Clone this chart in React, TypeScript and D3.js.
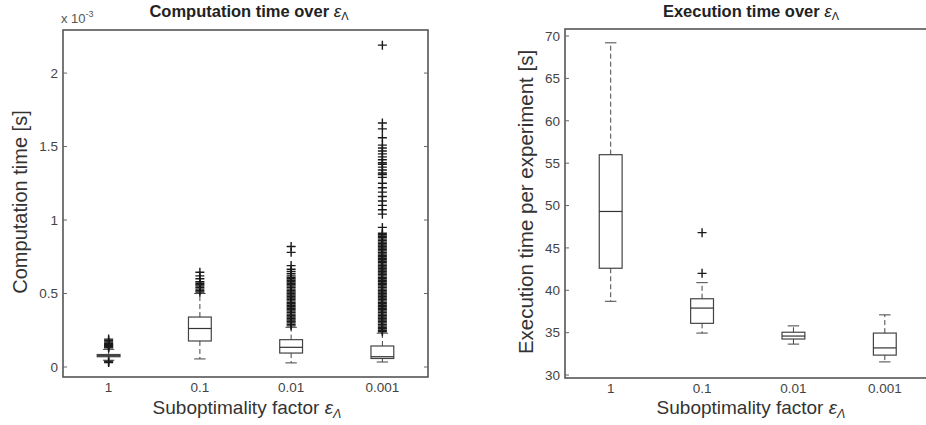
import React, { useEffect, useRef } from "react";
import * as d3 from "d3";

// categories on x (suboptimality factor)
const categories = ["1", "0.1", "0.01", "0.001"];

// computation time, values in 1e-3 s
const compQ1 = [0.07, 0.177, 0.095, 0.058];
const compMedian = [0.077, 0.262, 0.134, 0.07];
const compQ3 = [0.085, 0.34, 0.186, 0.143];
const compLow = [0.046, 0.055, 0.028, 0.034];
const compHigh = [0.12, 0.5, 0.27, 0.23];
const compOutliers = [
  [0.03, 0.035, 0.04, 0.13, 0.135, 0.14, 0.145, 0.15, 0.155, 0.16, 0.17, 0.18, 0.19],
  [0.51, 0.52, 0.53, 0.54, 0.55, 0.56, 0.57, 0.58, 0.6, 0.62, 0.645],
  [
    0.28, 0.29, 0.3, 0.31, 0.32, 0.33, 0.34, 0.35, 0.36, 0.37, 0.38, 0.39, 0.4, 0.41,
    0.42, 0.43, 0.44, 0.45, 0.46, 0.47, 0.48, 0.49, 0.5, 0.51, 0.52, 0.53, 0.54, 0.55,
    0.56, 0.57, 0.58, 0.59, 0.6, 0.61, 0.62, 0.635, 0.65, 0.665, 0.69, 0.78, 0.82,
  ],
  [
    0.24, 0.25, 0.26, 0.27, 0.28, 0.29, 0.3, 0.31, 0.32, 0.33, 0.34, 0.35, 0.36, 0.37,
    0.38, 0.39, 0.4, 0.41, 0.42, 0.43, 0.44, 0.45, 0.46, 0.47, 0.48, 0.49, 0.5, 0.51,
    0.52, 0.53, 0.54, 0.55, 0.56, 0.57, 0.58, 0.59, 0.6, 0.61, 0.62, 0.63, 0.64, 0.65,
    0.66, 0.67, 0.68, 0.69, 0.7, 0.71, 0.72, 0.73, 0.74, 0.75, 0.76, 0.77, 0.78, 0.79,
    0.8, 0.81, 0.82, 0.83, 0.84, 0.85, 0.86, 0.87, 0.88, 0.89, 0.9, 0.91, 0.95, 1.04,
    1.07, 1.1, 1.13, 1.16, 1.19, 1.22, 1.25, 1.29, 1.31, 1.32, 1.34, 1.36, 1.38, 1.39,
    1.41, 1.43, 1.45, 1.47, 1.49, 1.51, 1.56, 1.62, 1.66, 2.19,
  ],
];
const compTicks = [0, 0.5, 1, 1.5, 2];

// execution time per experiment, s
const execQ1 = [42.6, 36.1, 34.25, 32.35];
const execMedian = [49.3, 37.9, 34.6, 33.2];
const execQ3 = [56, 39, 35.05, 34.95];
const execLow = [38.7, 34.95, 33.65, 31.55];
const execHigh = [69.2, 40.9, 35.8, 37.1];
const execOutliers = [[], [42.0, 46.8], [], []];
const execTicks = [30, 35, 40, 45, 50, 55, 60, 65, 70];

const FONT = "'Liberation Sans', Arial, Helvetica, sans-serif";

function drawPanel(svg, opts) {
  const { left, right, top, bottom, yDomain, ticks, q1, med, q3, lo, hi, out } = opts;
  const x = d3.scaleLinear().domain([0.5, 4.5]).range([left, right]);
  const y = d3.scaleLinear().domain(yDomain).range([bottom, top]);
  const g = svg.append("g");
  const boxW = x(1.25) - x(1);
  const capW = boxW / 2;

  // frame
  g.append("rect")
    .attr("x", left)
    .attr("y", top)
    .attr("width", right - left)
    .attr("height", bottom - top)
    .attr("fill", "#fff")
    .attr("stroke", "#555")
    .attr("stroke-width", 1.6);

  // y ticks (inward, both sides)
  ticks.forEach((t) => {
    g.append("line").attr("x1", left).attr("x2", left + 4).attr("y1", y(t)).attr("y2", y(t)).attr("stroke", "#666");
    g.append("line").attr("x1", right).attr("x2", right - 4).attr("y1", y(t)).attr("y2", y(t)).attr("stroke", "#666");
    g.append("text")
      .attr("x", left - 5)
      .attr("y", y(t))
      .attr("dy", "0.35em")
      .attr("text-anchor", "end")
      .attr("font-family", FONT)
      .attr("font-size", 13.5)
      .attr("fill", "#444")
      .text(d3.format("~g")(t));
  });

  // x tick labels
  categories.forEach((c, i) => {
    g.append("text")
      .attr("x", x(i + 1))
      .attr("y", bottom + 15)
      .attr("text-anchor", "middle")
      .attr("font-family", FONT)
      .attr("font-size", 13.5)
      .attr("fill", "#444")
      .text(c);
  });

  categories.forEach((c, i) => {
    const cx = x(i + 1);
    const stroke = "#444";
    // whiskers
    g.append("line").attr("x1", cx).attr("x2", cx).attr("y1", y(q3[i])).attr("y2", y(hi[i]))
      .attr("stroke", stroke).attr("stroke-dasharray", "5,3");
    g.append("line").attr("x1", cx).attr("x2", cx).attr("y1", y(q1[i])).attr("y2", y(lo[i]))
      .attr("stroke", stroke).attr("stroke-dasharray", "5,3");
    g.append("line").attr("x1", cx - capW / 2).attr("x2", cx + capW / 2).attr("y1", y(hi[i])).attr("y2", y(hi[i]))
      .attr("stroke", stroke);
    g.append("line").attr("x1", cx - capW / 2).attr("x2", cx + capW / 2).attr("y1", y(lo[i])).attr("y2", y(lo[i]))
      .attr("stroke", stroke);
    // box
    g.append("rect")
      .attr("x", cx - boxW / 2)
      .attr("y", y(q3[i]))
      .attr("width", boxW)
      .attr("height", Math.max(1, y(q1[i]) - y(q3[i])))
      .attr("fill", "none")
      .attr("stroke", stroke)
      .attr("stroke-width", 1.2);
    g.append("line").attr("x1", cx - boxW / 2).attr("x2", cx + boxW / 2).attr("y1", y(med[i])).attr("y2", y(med[i]))
      .attr("stroke", "#333").attr("stroke-width", 1.2);
    // outliers
    g.append("g")
      .selectAll("path")
      .data(out[i])
      .join("path")
      .attr("d", (v) => `M${cx - 4.5},${y(v)}h9M${cx},${y(v) - 4.5}v9`)
      .attr("stroke", "#1a1a1a")
      .attr("stroke-width", 1.4);
  });

  return x;
}

function addTitle(svg, cx, yPos, text) {
  const t = svg.append("text")
    .attr("x", cx)
    .attr("y", yPos)
    .attr("text-anchor", "middle")
    .attr("font-family", FONT)
    .attr("font-size", 16.5)
    .attr("font-weight", "bold")
    .attr("fill", "#222");
  t.append("tspan").text(text + " ");
  t.append("tspan").attr("font-weight", "normal").attr("font-style", "italic").attr("font-size", 17).text("ε");
  t.append("tspan").attr("font-weight", "normal").attr("font-size", 11).attr("dy", 3).text("Λ");
}

function addXLabel(svg, cx, yPos) {
  const t = svg.append("text")
    .attr("x", cx)
    .attr("y", yPos)
    .attr("text-anchor", "middle")
    .attr("font-family", FONT)
    .attr("font-size", 19)
    .attr("fill", "#333");
  t.append("tspan").text("Suboptimality factor ");
  t.append("tspan").attr("font-style", "italic").text("ε");
  t.append("tspan").attr("font-size", 12.5).attr("font-style", "italic").attr("dy", 4).text("Λ");
}

function addYLabel(svg, xPos, cy, text, size) {
  svg.append("text")
    .attr("transform", `translate(${xPos},${cy}) rotate(-90)`)
    .attr("text-anchor", "middle")
    .attr("font-family", FONT)
    .attr("font-size", size)
    .attr("fill", "#333")
    .text(text);
}

export default function App() {
  const ref = useRef(null);

  useEffect(() => {
    const width = 926;
    const height = 425;
    d3.select(ref.current).selectAll("*").remove();
    const svg = d3
      .select(ref.current)
      .append("svg")
      .attr("width", width)
      .attr("height", height)
      .style("position", "absolute")
      .style("left", "0px")
      .style("top", "0px")
      .style("background", "#fff");

    // left: computation time
    drawPanel(svg, {
      left: 63, right: 428, top: 30, bottom: 377,
      yDomain: [-0.068, 2.293], ticks: compTicks,
      q1: compQ1, med: compMedian, q3: compQ3, lo: compLow, hi: compHigh, out: compOutliers,
    });
    const exp = svg.append("text")
      .attr("x", 61)
      .attr("y", 23)
      .attr("font-family", FONT)
      .attr("font-size", 13)
      .attr("fill", "#555");
    exp.append("tspan").text("x 10");
    exp.append("tspan").attr("font-size", 9).attr("dy", -6).text("-3");
    addTitle(svg, 249, 17, "Computation time over");
    addXLabel(svg, 247, 414);
    addYLabel(svg, 27, 202, "Computation time [s]", 20);

    // right: execution time
    drawPanel(svg, {
      left: 565, right: 930.5, top: 29, bottom: 378,
      yDomain: [29.65, 70.83], ticks: execTicks,
      q1: execQ1, med: execMedian, q3: execQ3, lo: execLow, hi: execHigh, out: execOutliers,
    });
    addTitle(svg, 751, 17, "Execution time over");
    addXLabel(svg, 751, 414);
    addYLabel(svg, 533, 202, "Execution time per experiment [s]", 20.5);
  }, []);

  return <div ref={ref} />;
}
